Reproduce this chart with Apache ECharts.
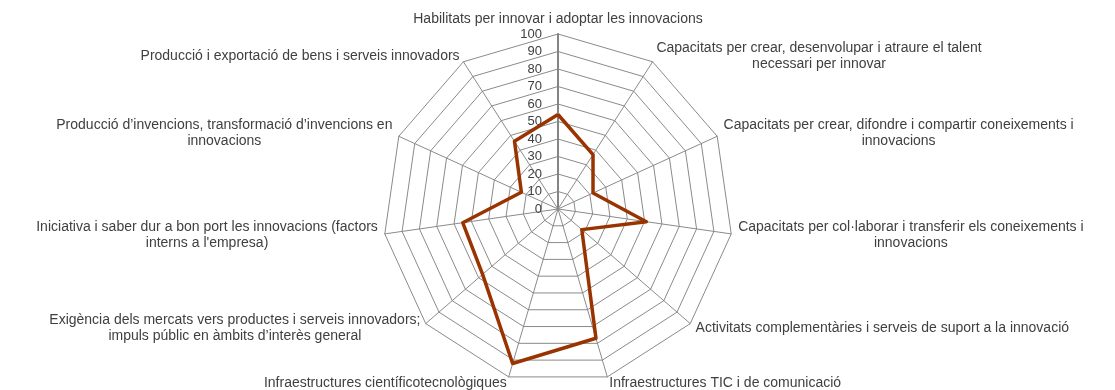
<!DOCTYPE html>
<html>
<head>
<meta charset="utf-8">
<script src="https://cdn.jsdelivr.net/npm/echarts@6/dist/echarts.min.js"></script>
<style>
  html, body { margin: 0; padding: 0; background: #fff; }
  #chart { width: 1115px; height: 390px; }
</style>
</head>
<body>
<div id="chart"></div>
<script>
// axes in clockwise order starting from the top
const categories = [
  'Habilitats per innovar i adoptar les innovacions',
  'Capacitats per crear, desenvolupar i atraure el talent\nnecessari per innovar',
  'Capacitats per crear, difondre i compartir coneixements i\ninnovacions',
  'Capacitats per col·laborar i transferir els coneixements i\ninnovacions',
  'Activitats complementàries i serveis de suport a la innovació',
  'Infraestructures TIC i de comunicació',
  'Infraestructures científicotecnològiques',
  'Exigència dels mercats vers productes i serveis innovadors;\nimpuls públic en àmbits d’interès general',
  'Iniciativa i saber dur a bon port les innovacions (factors\ninterns a l\'empresa)',
  'Producció d’invencions, transformació d’invencions en\ninnovacions',
  'Producció i exportació de bens i serveis innovadors'
];
const values = [54, 37, 22, 51, 18, 77, 92, 57, 55, 23, 46];
const axisMin = 0;
const axisMax = 100;
const axisStep = 10;

// echarts lays indicators out counter-clockwise, so flip everything after the first
const order = [0].concat(categories.map((c, i) => i).slice(1).reverse());

const font = 'Liberation Sans, Arial, sans-serif';
const chart = echarts.init(document.getElementById('chart'));
chart.setOption({
  animation: false,
  textStyle: { fontFamily: font },
  radar: {
    center: [558, 209],
    radius: 175,
    startAngle: 90,
    shape: 'polygon',
    splitNumber: (axisMax - axisMin) / axisStep,
    axisName: {
      color: '#404040',
      fontSize: 14,
      fontFamily: font,
      formatter: (name) => name.split('\n').map(s => '{c|' + s + '}').join('\n'),
      rich: {
        c: { align: 'center', color: '#404040', fontSize: 14, lineHeight: 16, fontFamily: font }
      }
    },
    nameGap: 7,
    splitLine: { lineStyle: { color: '#8a8a8a', width: 1 } },
    splitArea: { show: false },
    axisLine: { lineStyle: { color: '#8a8a8a', width: 1 } },
    axisTick: { show: false },
    axisLabel: { show: false },
    indicator: order.map((i, n) => {
      const ind = { name: categories[i], min: axisMin, max: axisMax, interval: axisStep };
      if (n === 0) {
        ind.axisLabel = { show: true, color: '#404040', fontSize: 13, margin: 16, fontFamily: font };
        ind.axisLine = { lineStyle: { color: '#848484', width: 2 } };
      }
      return ind;
    })
  },
  series: [{
    type: 'radar',
    symbol: 'none',
    lineStyle: { color: '#993300', width: 3.5 },
    data: [{ value: order.map(i => values[i]) }]
  }]
});
</script>
</body>
</html>
